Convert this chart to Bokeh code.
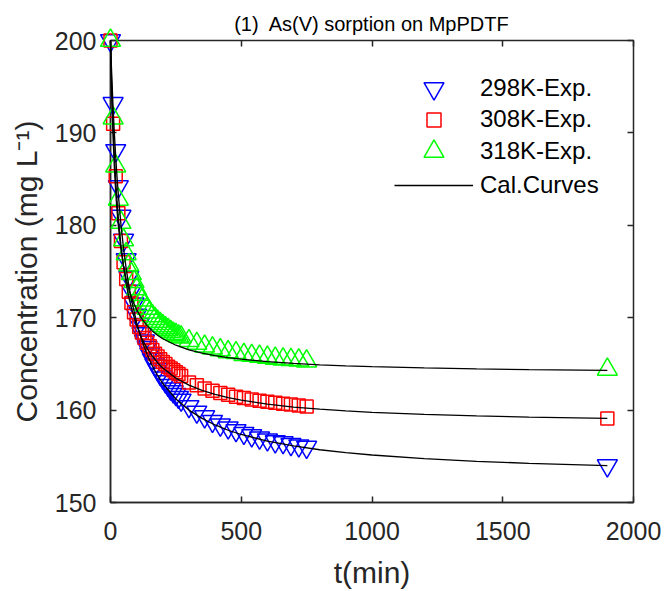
from bokeh.plotting import figure
from bokeh.models import Range1d, LinearAxis, Legend, LegendItem, FixedTicker
from bokeh.embed import file_html
from bokeh.resources import INLINE

# ---------------- data ----------------
title_text = "(1)\u00a0 As(V) sorption on MpPDTF"
x_label = "t(min)"
y_label = "Concentration (mg L\u207b\u00b9)"
x_ticks = [0, 500, 1000, 1500, 2000]
y_ticks = [150, 160, 170, 180, 190, 200]

t_exp = [0, 10, 20, 30, 40, 50, 60, 70, 80, 90, 100, 110, 120, 130, 140, 150,
         160, 170, 180, 190, 200, 210, 220, 230, 240, 250, 260, 270,
         300, 330, 360, 390, 420, 450, 480, 510, 540, 570, 600, 630, 660, 690,
         720, 750, 1900]

c_298 = [200, 193.2, 188.1, 184.2, 181.0, 178.4, 176.3, 174.4, 172.9, 171.5,
         170.3, 169.3, 168.3, 167.5, 166.8, 166.1, 165.5, 164.9, 164.4, 163.9,
         163.5, 163.1, 162.7, 162.3, 162.0, 161.7, 161.4, 161.1,
         160.4, 159.8, 159.3, 158.8, 158.4, 158.1, 157.8, 157.5, 157.25, 157.0,
         156.8, 156.6, 156.5, 156.3, 156.15, 156.0, 154.0]

c_308 = [200, 191.0, 185.3, 181.3, 178.3, 176.0, 174.2, 172.8, 171.6, 170.6,
         169.8, 169.0, 168.4, 167.8, 167.3, 166.9, 166.5, 166.1, 165.8, 165.5,
         165.2, 165.0, 164.7, 164.5, 164.3, 164.1, 163.9, 163.7,
         163.0, 162.7, 162.35, 162.1, 161.85, 161.65, 161.45, 161.3, 161.15, 161.0,
         160.9, 160.8, 160.7, 160.6, 160.5, 160.4, 159.1]

c_318 = [200, 191.6, 186.4, 182.8, 180.3, 178.4, 176.9, 175.7, 174.75, 173.9,
         173.1, 172.5, 171.9, 171.4, 171.0, 170.6, 170.2, 169.9, 169.6, 169.35,
         169.1, 168.9, 168.7, 168.5, 168.3, 168.15, 168.0, 167.9,
         167.5, 167.2, 166.9, 166.7, 166.5, 166.3, 166.2, 166.0, 165.9, 165.8,
         165.7, 165.6, 165.5, 165.45, 165.4, 165.3, 164.4]

t_cal = [0, 3, 6, 10, 15, 20, 25, 30, 40, 50, 60, 70, 80, 100, 120, 140, 160,
         180, 200, 250, 300, 350, 400, 450, 500, 600, 700, 800, 900, 1000,
         1200, 1400, 1600, 1900]

cal_298 = [200, 197.55, 195.35, 192.7, 189.86, 187.38, 185.21, 183.3, 180.07,
           177.46, 175.31, 173.5, 171.95, 169.46, 167.55, 166.02, 164.78, 163.75,
           162.88, 161.2, 160.0, 159.1, 158.39, 157.82, 157.36, 156.64, 156.12,
           155.71, 155.4, 155.14, 154.74, 154.46, 154.24, 154.0]

cal_308 = [200, 196.71, 193.9, 190.74, 187.5, 184.85, 182.65, 180.78, 177.79,
           175.5, 173.69, 172.23, 171.03, 169.15, 167.75, 166.68, 165.83, 165.13,
           164.55, 163.46, 162.7, 162.14, 161.7, 161.36, 161.07, 160.65, 160.33,
           160.1, 159.91, 159.76, 159.53, 159.37, 159.24, 159.1]

cal_318 = [200, 195.98, 192.77, 189.37, 186.1, 183.57, 181.56, 179.92, 177.41,
           175.57, 174.18, 173.08, 172.19, 170.85, 169.87, 169.14, 168.57, 168.1,
           167.72, 167.02, 166.53, 166.17, 165.9, 165.68, 165.51, 165.24, 165.05,
           164.9, 164.79, 164.7, 164.56, 164.46, 164.38, 164.3]

series_labels = ["298K-Exp.", "308K-Exp.", "318K-Exp.", "Cal.Curves"]

# ---------------- styles ----------------
FONT = "Liberation Sans"
AX = "#262626"

p = figure(frame_width=523, frame_height=462,
           min_border_left=110, min_border_right=31,
           min_border_top=40, min_border_bottom=89,
           x_range=Range1d(0, 2000), y_range=Range1d(150, 200),
           output_backend="svg", toolbar_location=None)

p.background_fill_color = "white"
p.border_fill_color = "white"
p.outline_line_color = AX
p.outline_line_width = 1.5
p.outline_line_alpha = 1.0
p.xgrid.visible = False
p.ygrid.visible = False

p.title.text = title_text
p.title.align = "center"
p.title.text_font = FONT
p.title.text_font_size = "20px"
p.title.text_font_style = "normal"
p.title.text_color = "black"
p.title.standoff = 12

for ax in (p.xaxis[0], p.yaxis[0]):
    ax.axis_line_color = AX
    ax.axis_line_width = 1.5
    ax.major_tick_line_color = AX
    ax.major_tick_line_width = 1.5
    ax.major_tick_in = 6
    ax.major_tick_out = 0
    ax.minor_tick_line_color = None
    ax.major_label_text_font = FONT
    ax.major_label_text_font_size = "25px"
    ax.major_label_text_color = AX
    ax.axis_label_text_font = FONT
    ax.axis_label_text_font_size = "30px"
    ax.axis_label_text_font_style = "normal"
    ax.axis_label_text_color = AX

p.xaxis[0].ticker = FixedTicker(ticks=x_ticks)
p.yaxis[0].ticker = FixedTicker(ticks=y_ticks)
p.xaxis[0].axis_label = x_label
p.yaxis[0].axis_label = y_label
p.xaxis[0].major_label_standoff = 19
p.yaxis[0].major_label_standoff = 14
p.xaxis[0].axis_label_standoff = 13
p.yaxis[0].axis_label_standoff = 9

for loc, tick in (("above", x_ticks), ("right", y_ticks)):
    a = LinearAxis(ticker=FixedTicker(ticks=tick))
    a.axis_line_color = None
    a.major_tick_line_color = AX
    a.major_tick_line_width = 1.5
    a.major_tick_in = 6
    a.major_tick_out = 0
    a.minor_tick_line_color = None
    a.major_label_text_font_size = "1px"
    a.major_label_text_color = None
    a.major_label_standoff = 0
    p.add_layout(a, loc)

# ---------------- glyphs ----------------
r298 = p.scatter(t_exp, c_298, marker="inverted_triangle", size=20,
                 fill_color=None, line_color="#0000FF", line_width=1.5, level="overlay")
r308 = p.scatter(t_exp, c_308, marker="square", size=13,
                 fill_color=None, line_color="#FF0000", line_width=1.5, level="overlay")
r318 = p.scatter(t_exp, c_318, marker="triangle", size=20,
                 fill_color=None, line_color="#00FF00", line_width=1.5, level="overlay")
rc1 = p.line(t_cal, cal_298, line_color="black", line_width=1.3, level="overlay")
rc2 = p.line(t_cal, cal_308, line_color="black", line_width=1.3, level="overlay")
rc3 = p.line(t_cal, cal_318, line_color="black", line_width=1.3, level="overlay")


def add_legend(renderers, label, gh, vy_center):
    leg = Legend(items=[LegendItem(label=label, renderers=renderers)],
                 location=(284, vy_center - gh / 2),
                 glyph_width=79, glyph_height=gh, label_standoff=7,
                 padding=0, margin=0, spacing=0,
                 border_line_color=None, background_fill_alpha=0,
                 label_text_font=FONT, label_text_font_size="24px",
                 label_text_color="black", label_height=20)
    p.add_layout(leg)


add_legend([r298], series_labels[0], 50, 414)
add_legend([r308], series_labels[1], 35, 383)
add_legend([r318], series_labels[2], 50, 351)
add_legend([rc1], series_labels[3], 34, 317)

open("out.html", "w").write(file_html(p, INLINE))
